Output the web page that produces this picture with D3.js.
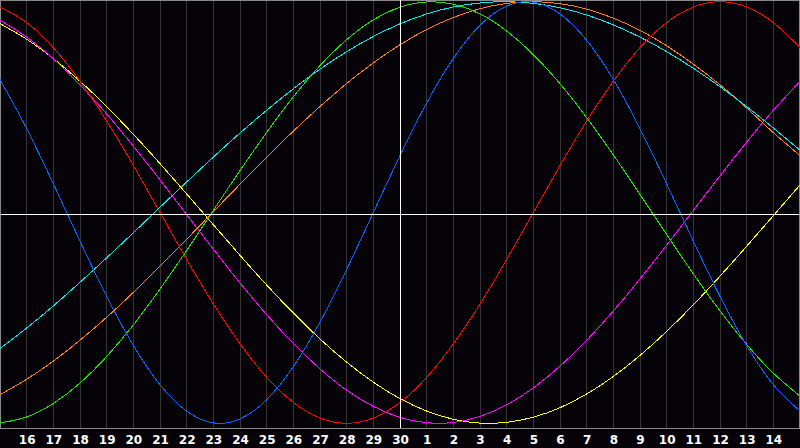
<!DOCTYPE html>
<html>
<head>
<meta charset="utf-8">
<script src="https://cdn.jsdelivr.net/npm/d3@7"></script>
<style>
  html, body { margin: 0; padding: 0; background: #050308; }
  svg { display: block; }
</style>
</head>
<body>
<svg id="chart" width="800" height="448"></svg>
<script>
// Day labels (grid positions 1..29); position 0 and 30 are the chart edges
const dayLabels = ["16","17","18","19","20","21","22","23","24","25","26","27","28","29","30",
                   "1","2","3","4","5","6","7","8","9","10","11","12","13","14"];

// Daily values (-1..1), positions 0..30
const red = [0.975,0.901,0.782,0.623,0.434,0.223,0,-0.223,-0.434,-0.623,-0.782,-0.901,-0.975,-1,-0.975,-0.901,-0.782,-0.623,-0.434,-0.223,0,0.223,0.434,0.623,0.782,0.901,0.975,1,0.975,0.901,0.782];
const blue = [0.631,0.398,0.136,-0.136,-0.398,-0.631,-0.817,-0.942,-0.998,-0.979,-0.888,-0.731,-0.520,-0.270,0,0.270,0.520,0.731,0.888,0.979,0.998,0.942,0.817,0.631,0.398,0.136,-0.136,-0.398,-0.631,-0.817,-0.942];
const green = [-0.998,-0.970,-0.906,-0.809,-0.683,-0.533,-0.363,-0.180,0.010,0.199,0.380,0.549,0.697,0.820,0.914,0.974,0.999,0.988,0.942,0.861,0.749,0.611,0.450,0.273,0.086,-0.105,-0.291,-0.467,-0.626,-0.762,-0.871];
const magenta = [0.912,0.832,0.729,0.606,0.467,0.315,0.155,-0.010,-0.174,-0.334,-0.485,-0.622,-0.742,-0.843,-0.920,-0.972,-0.997,-0.996,-0.967,-0.912,-0.832,-0.729,-0.606,-0.467,-0.315,-0.155,0.010,0.174,0.334,0.485,0.622];
const yellow = [0.896,0.822,0.730,0.623,0.502,0.371,0.232,0.088,-0.058,-0.203,-0.344,-0.477,-0.600,-0.710,-0.805,-0.883,-0.942,-0.981,-0.999,-0.995,-0.971,-0.926,-0.861,-0.778,-0.678,-0.564,-0.438,-0.302,-0.160,-0.015,0.131];
const orange = [-0.864,-0.791,-0.705,-0.606,-0.497,-0.379,-0.255,-0.127,0.004,0.134,0.263,0.386,0.503,0.612,0.710,0.796,0.868,0.925,0.967,0.992,1.000,0.991,0.965,0.922,0.864,0.791,0.704,0.606,0.496,0.379,0.270];
const cyan = [-0.645,-0.548,-0.443,-0.331,-0.215,-0.096,0.025,0.145,0.263,0.377,0.485,0.587,0.680,0.763,0.835,0.895,0.942,0.975,0.994,1.000,0.992,0.971,0.937,0.890,0.832,0.763,0.684,0.597,0.502,0.401,0.296];

const series = [
  { values: yellow,  color: "#ffff00" },
  { values: magenta, color: "#ff00ff" },
  { values: orange,  color: "#ff8010" },
  { values: cyan,    color: "#00e8e8" },
  { values: green,   color: "#22e000" },
  { values: blue,    color: "#0a64ff" },
  { values: red,     color: "#ff0000" }
];

const svg = d3.select("#chart");
const W = 800, plotBottom = 428;

const x = d3.scaleLinear().domain([0, 30]).range([0, W]);
const y = d3.scaleLinear().domain([-1, 1]).range([423.3, 1.7]);

svg.append("rect").attr("width", 800).attr("height", 448).attr("fill", "#050308");

// vertical day grid lines
const gridPos = d3.range(1, 30);
svg.append("g").selectAll("line").data(gridPos).join("line")
  .attr("x1", d => Math.floor(x(d)) + 0.5)
  .attr("x2", d => Math.floor(x(d)) + 0.5)
  .attr("y1", 0).attr("y2", plotBottom)
  .attr("stroke", d => d === 15 ? "none" : "#353535")
  .attr("stroke-width", 1)
  .attr("shape-rendering", "crispEdges");

// frame
svg.append("path")
  .attr("d", `M0.5,${plotBottom + 0.5} V0.5 H799.5 V${plotBottom + 0.5} Z`)
  .attr("fill", "none").attr("stroke", "#8a8a8a").attr("stroke-width", 1)
  .attr("shape-rendering", "crispEdges");

// axis with day labels
const axis = d3.axisBottom(x)
  .tickValues(gridPos)
  .tickFormat(d => dayLabels[d - 1])
  .tickSize(0)
  .tickPadding(0);
const gAxis = svg.append("g").attr("transform", `translate(0,${plotBottom})`).call(axis);
gAxis.select(".domain").remove();
gAxis.selectAll("text")
  .attr("y", 15.5).attr("dy", 0)
  .attr("fill", "#ffffff")
  .style("font-family", "'DejaVu Sans', sans-serif")
  .style("font-weight", "bold")
  .style("font-size", "12px");

// curves
const line = d3.line()
  .x((d, i) => x(i))
  .y(d => y(d))
  .curve(d3.curveNatural);

svg.append("g").selectAll("path").data(series).join("path")
  .attr("d", d => line(d.values))
  .attr("fill", "none")
  .attr("stroke", d => d.color)
  .attr("stroke-width", 1)
  .attr("shape-rendering", "crispEdges");

// center cross lines (white)
svg.append("line")
  .attr("x1", 1).attr("x2", 799)
  .attr("y1", 214.5).attr("y2", 214.5)
  .attr("stroke", "#ffffff").attr("stroke-width", 1)
  .attr("shape-rendering", "crispEdges");
svg.append("line")
  .attr("x1", 400.5).attr("x2", 400.5)
  .attr("y1", 0).attr("y2", plotBottom)
  .attr("stroke", "#ffffff").attr("stroke-width", 1)
  .attr("shape-rendering", "crispEdges");
</script>
</body>
</html>
